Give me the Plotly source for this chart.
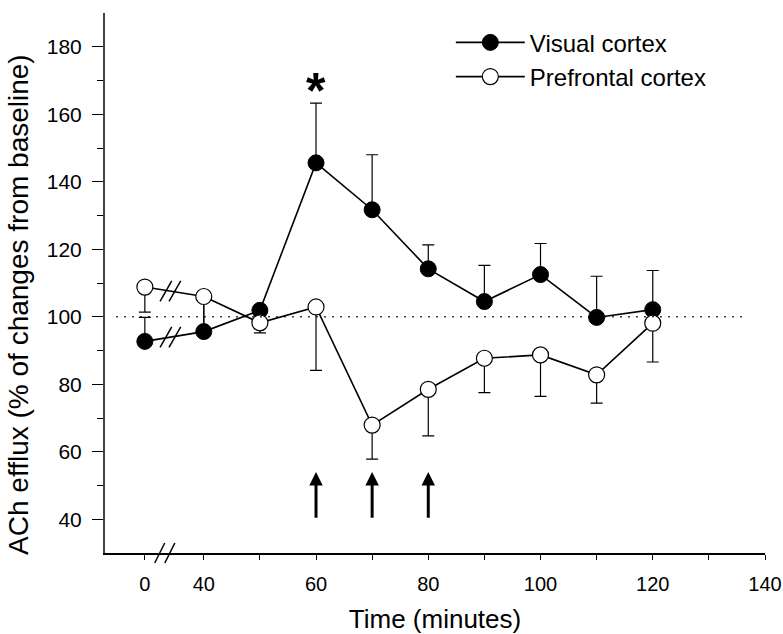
import plotly.graph_objects as go

# ---------------- data ----------------
time_min = [0, 40, 50, 60, 70, 80, 90, 100, 110, 120]
visual = [92.7, 95.6, 101.9, 145.6, 131.7, 114.2, 104.5, 112.5, 99.8, 102.1]
visual_sem = [7.1, 9.2, 1.5, 17.7, 16.3, 7.1, 10.7, 9.2, 12.2, 11.6]
prefrontal = [108.8, 106.0, 98.2, 102.9, 67.9, 78.5, 87.7, 88.7, 82.8, 98.1]
prefrontal_sem = [7.4, 9.5, 3.0, 18.8, 10.1, 13.8, 10.2, 12.3, 8.4, 11.5]
arrow_times = [60, 70, 80]
star_time = 60
x_tick_vals = [0, 40, 50, 60, 70, 80, 90, 100, 110, 120, 130, 140]
x_tick_text = ["0", "40", "", "60", "", "80", "", "100", "", "120", "", "140"]
y_major = [40, 60, 80, 100, 120, 140, 160, 180]
y_minor = [50, 70, 90, 110, 130, 150, 170]

# broken time axis: time 0 is drawn just before 40
BREAK_POS = 29.5
def xpos(t):
    return BREAK_POS if t == 0 else t

XR = [22.4, 140]
YR = [30, 190]
FONT = "Arial, Liberation Sans, Helvetica, sans-serif"

vx = [xpos(t) for t in time_min]

fig = go.Figure()
fig.add_trace(go.Scatter(
    x=vx, y=visual, mode="lines+markers", name="Visual cortex",
    line=dict(color="black", width=1.6),
    marker=dict(symbol="circle", size=16, color="black", line=dict(color="black", width=1)),
    error_y=dict(type="data", array=visual_sem, arrayminus=[0] * len(visual_sem),
                 symmetric=False, color="black", thickness=1.2, width=6),
))
fig.add_trace(go.Scatter(
    x=vx, y=prefrontal, mode="lines+markers", name="Prefrontal cortex",
    line=dict(color="black", width=1.6),
    marker=dict(symbol="circle", size=16, color="white", line=dict(color="black", width=1.2)),
    error_y=dict(type="data", array=[0] * len(prefrontal_sem), arrayminus=prefrontal_sem,
                 symmetric=False, color="black", thickness=1.2, width=6),
))

shapes = []
# baseline dotted line
shapes.append(dict(type="line", xref="x", yref="y", x0=24.4, x1=136.8, y0=100, y1=100,
                   line=dict(color="black", width=1.3, dash="1.5px,6.5px")))

# break marks on the data lines
bx = (BREAK_POS + 40) / 2 - 0.7
def interp(series):
    f = (bx - BREAK_POS) / (40 - BREAK_POS)
    return series[0] + f * (series[1] - series[0])
for ser in (visual, prefrontal):
    cy = interp(ser)
    for off in (-0.8, 0.8):
        cx = bx + off
        shapes.append(dict(type="line", xref="x", yref="y",
                           x0=cx - 1.04, x1=cx + 1.04, y0=cy - 3.05, y1=cy + 3.05,
                           line=dict(color="black", width=1.5)))

# break marks on x axis (paper coords)
def px2paper(xv):
    return (xv - XR[0]) / (XR[1] - XR[0])
for off in (-0.9, 0.9):
    cx = bx - 1.0 + off
    shapes.append(dict(type="line", xref="paper", yref="paper",
                       x0=px2paper(cx - 0.89), x1=px2paper(cx + 0.89),
                       y0=-0.0185, y1=0.0185,
                       line=dict(color="black", width=1.5)))

annotations = []
for t in arrow_times:
    annotations.append(dict(x=t, y=54, ax=t, ay=40, xref="x", yref="y", axref="x", ayref="y",
                            showarrow=True, arrowhead=2, arrowsize=0.9, arrowwidth=3,
                            arrowcolor="black", text=""))
annotations.append(dict(x=star_time, y=166.8, xref="x", yref="y", text="<b>*</b>",
                        showarrow=False, font=dict(size=50, color="black", family=FONT),
                        xanchor="center", yanchor="middle"))
# y-axis title as rotated text
annotations.append(dict(x=-0.132, y=0.461, xref="paper", yref="paper",
                        text="ACh efflux (% of changes from baseline)", textangle=-90,
                        showarrow=False, font=dict(size=28, color="black", family=FONT),
                        xanchor="center", yanchor="middle"))

fig.update_layout(
    width=783, height=634,
    margin=dict(l=105, r=18, t=13, b=81),
    paper_bgcolor="white", plot_bgcolor="white",
    font=dict(family=FONT, color="black"),
    showlegend=True,
    legend=dict(x=0.524, y=0.9865, xanchor="left", yanchor="top",
                font=dict(size=24, family=FONT, color="black"),
                bgcolor="rgba(0,0,0,0)", itemwidth=69, tracegroupgap=0),
    shapes=shapes,
    annotations=annotations,
    xaxis=dict(range=XR, showline=True, linecolor="black", linewidth=1.5,
               ticks="outside", ticklen=5, tickwidth=1.2, tickcolor="black",
               tickvals=[xpos(t) for t in x_tick_vals], ticktext=x_tick_text,
               tickfont=dict(size=20), showgrid=False, zeroline=False,
               ticklabelstandoff=7, automargin=False,
               title=dict(text="Time (minutes)", font=dict(size=26), standoff=22)),
    yaxis=dict(range=YR, showline=True, linecolor="#444", linewidth=2,
               ticks="outside", ticklen=11, tickwidth=1.2, tickcolor="black",
               tickvals=y_major, tickfont=dict(size=21), showgrid=False, zeroline=False,
               ticklabelstandoff=6, automargin=False,
               minor=dict(tickvals=y_minor, ticklen=6, tickwidth=1.2, tickcolor="black", ticks="outside")),
)

# remove the default 8px page margin so the figure fills the window exactly
fig.write_html("out.html", config={"displayModeBar": False},
               post_script="document.body.style.margin='0px';")
